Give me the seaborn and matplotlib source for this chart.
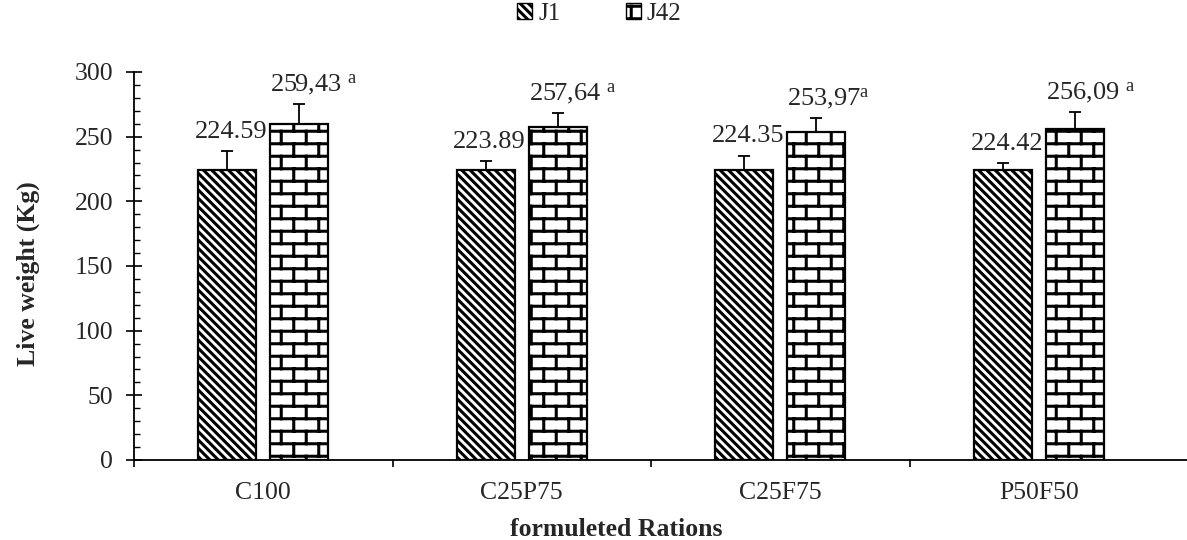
"""
Live weight of animals per formulated ration, day 1 vs day 42.
"""

import warnings
import numpy as np
import pandas as pd
import seaborn as sns
import matplotlib
matplotlib.use('Agg')
import matplotlib.pyplot as plt
from matplotlib import hatch as mhatch
from matplotlib.path import Path
from matplotlib.patches import Patch
from matplotlib.ticker import MultipleLocator, FixedLocator

warnings.filterwarnings('ignore')

# data
rations = ['C100', 'C25P75', 'C25F75', 'P50F50']
periods = ['J1', 'J42']
j1_mean = [224.59, 223.89, 224.35, 224.42]
j42_mean = [259.43, 257.64, 253.97, 256.09]
j1_err = [14.0, 7.5, 11.0, 5.0]
j42_err = [15.5, 10.5, 10.5, 13.0]
j1_labels = ['224.59', '223.89', '224.35', '224.42']
j42_labels = ['259,43', '257,64', '253,97', '256,09']
j42_letters = [' a', ' a', 'a', ' a']


class BrickHatch(mhatch.HatchPatternBase):
    """Brick wall hatch, triggered by 'b' in the hatch string."""

    def __init__(self, hatch, density):
        n = hatch.count('b')
        self.rows = 8 * n
        self.cols = 4 * n
        # one horizontal per row, verticals per row plus one wrap row
        self.num_lines = self.rows + (self.rows + 1) * self.cols
        self.num_vertices = self.num_lines * 2

    def set_vertices_and_codes(self, vertices, codes):
        h = 1.0 / self.rows
        w = 1.0 / self.cols
        k = 0
        for r in range(self.rows):
            y = (r + 0.5) * h
            vertices[k] = (0.0, y)
            vertices[k + 1] = (1.0, y)
            k += 2
        for r in range(-1, self.rows):
            shift = 0.5 * w * (r % 2)
            for c in range(self.cols):
                x = (c + 0.25) * w + shift
                vertices[k] = (x, (r + 0.5) * h)
                vertices[k + 1] = (x, (r + 1.5) * h)
                k += 2
        codes[0::2] = Path.MOVETO
        codes[1::2] = Path.LINETO


mhatch._hatch_types.append(BrickHatch)
hatches = {'J1': '\\\\\\\\', 'J42': 'b'}

sns.set_theme(style='ticks')
plt.rcParams['font.family'] = ['Liberation Serif', 'DejaVu Serif']
plt.rcParams['mathtext.fontset'] = 'custom'
plt.rcParams['mathtext.rm'] = 'Liberation Serif'
plt.rcParams['mathtext.it'] = 'Liberation Serif'
plt.rcParams['hatch.linewidth'] = 2.2
plt.rcParams['hatch.color'] = 'black'

df = pd.DataFrame({
    'ration': rations * 2,
    'period': ['J1'] * 4 + ['J42'] * 4,
    'weight': j1_mean + j42_mean,
})

fig = plt.figure(figsize=(11.87, 5.40), dpi=100)
ax = fig.add_axes([134 / 1187, 80 / 540, 1053 / 1187, 388 / 540])

sns.barplot(data=df, x='ration', y='weight', hue='period', order=rations,
            hue_order=periods, palette=['white', 'white'], width=0.56, gap=0.2,
            errorbar=None, edgecolor='black', linewidth=1.6, legend=False, ax=ax)

errs = {'J1': j1_err, 'J42': j42_err}
for cont, per in zip(ax.containers, periods):
    xs, ys = [], []
    for bar in cont:
        bar.set_hatch(hatches[per])
        xs.append(bar.get_x() + bar.get_width() / 2)
        ys.append(bar.get_height())
    ax.errorbar(xs, ys, yerr=[np.zeros(len(ys)), errs[per]], fmt='none',
                ecolor='black', elinewidth=1.3, capsize=4, capthick=1.3, zorder=3)

    for i, bar in enumerate(cont):
        top = bar.get_height() + errs[per][i]
        if per == 'J1':
            ax.annotate(j1_labels[i], (bar.get_x() + bar.get_width() / 2, top),
                        xytext=(3, 9.5), textcoords='offset points',
                        ha='center', va='baseline', fontsize=19)
        else:
            txt = j42_labels[i] + j42_letters[i].replace('a', r'$^{\mathrm{a}}$')
            ax.annotate(txt, (bar.get_x(), top),
                        xytext=(0, 9.5), textcoords='offset points',
                        ha='left', va='baseline', fontsize=19)

ax.set_xlim(-0.5, 3.5 + 19 / 258.5)
ax.set_ylim(0, 300)
ax.yaxis.set_major_locator(MultipleLocator(50))
ax.yaxis.set_minor_locator(MultipleLocator(10))
ax.xaxis.set_minor_locator(FixedLocator([-0.5, 0.5, 1.5, 2.5]))
ax.tick_params(axis='y', which='major', direction='inout', length=11, width=1.2,
               labelsize=18.5, pad=9.5, color='black')
ax.tick_params(axis='y', which='minor', direction='in', length=4.5, width=1.0, color='black')
ax.tick_params(axis='x', which='major', length=0, labelsize=18.5, pad=15.5)
ax.tick_params(axis='x', which='minor', direction='out', length=5, width=1.2, color='black')

for side in ['top', 'right']:
    ax.spines[side].set_visible(False)
for side in ['left', 'bottom']:
    ax.spines[side].set_color('black')
    ax.spines[side].set_linewidth(1.3)

ax.set_ylabel('Live weight (Kg)', fontsize=18.5, fontweight='bold')
ax.set_xlabel('formuleted Rations', fontsize=18.5, fontweight='bold')
ax.yaxis.set_label_coords(-0.089, 0.48)
ax.xaxis.set_label_coords(0.458, -0.15)

handles = [Patch(facecolor='white', edgecolor='black', linewidth=1.0, hatch=hatches[p])
           for p in periods]
fig.legend(handles, periods, loc='center', bbox_to_anchor=(0.505, 0.974), ncol=2,
           frameon=False, fontsize=18, handlelength=0.6, handleheight=0.6,
           handletextpad=0.25, columnspacing=2.6, borderaxespad=0)

fig.savefig('out.png', dpi=100)
